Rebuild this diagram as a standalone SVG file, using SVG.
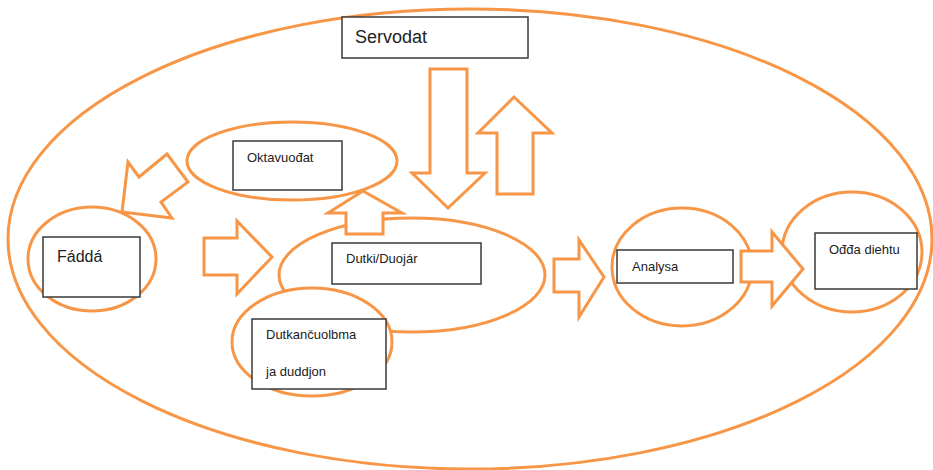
<svg xmlns="http://www.w3.org/2000/svg" width="933" height="470" viewBox="0 0 933 470">
<style>
.o{fill:#fff;stroke:#F79646;stroke-width:3}
.bo{fill:none;stroke:#F79646;stroke-width:3}
.b{fill:#fff;stroke:#3a3a3a;stroke-width:1.5}
.t{font-family:"Liberation Sans",Arial,sans-serif;font-size:13px;fill:#222}
</style>
<rect width="933" height="470" fill="#fff"/>
<ellipse id="outer" class="bo" cx="470" cy="239" rx="462" ry="230"/>
<g id="servodat">
<rect class="b" x="342" y="17" width="186" height="41"/>
<text class="t" x="355" y="43" style="font-size:18px">Servodat</text>
</g>
<g id="oktavuodat">
<ellipse class="o" cx="292" cy="161" rx="105" ry="39"/>
<rect class="b" x="233" y="141" width="109" height="49"/>
<text class="t" x="247" y="162">Oktavuođat</text>
</g>
<g id="faddha">
<ellipse class="o" cx="92" cy="259" rx="64" ry="52"/>
<rect class="b" x="43" y="237" width="97" height="60"/>
<text class="t" x="57" y="262" style="font-size:16px">Fáddá</text>
</g>
<g id="dutki">
<ellipse class="o" cx="412" cy="275" rx="133" ry="57"/>
<rect class="b" x="332" y="243" width="149" height="41"/>
<text class="t" x="346" y="263">Dutki/Duojár</text>
</g>
<g id="dutkancuolbma">
<ellipse class="o" cx="312" cy="342" rx="80" ry="54"/>
<rect class="b" x="252" y="319" width="134" height="70"/>
<text class="t" x="266" y="339">Dutkančuolbma</text>
<text class="t" x="266" y="376">ja duddjon</text>
</g>
<g id="analysa">
<ellipse class="o" cx="682" cy="267" rx="70" ry="59"/>
<rect class="b" x="617" y="250" width="116" height="33"/>
<text class="t" x="632" y="271">Analysa</text>
</g>
<g id="odda">
<ellipse class="o" cx="852" cy="252" rx="70" ry="60"/>
<rect class="b" x="815" y="233" width="102" height="56"/>
<text class="t" x="829" y="254">Ođđa diehtu</text>
</g>
<g id="connectors">
<polygon class="o" points="430,69 467,69 467,173 485,173 448,208 412,173 430,173"/>
<polygon class="o" points="514,97 552,133 533,133 533,194 497,194 497,133 478,133"/>
<polygon class="o" points="122,212 128,162 139,177 167,154 188,182 161,202 172,218"/>
<polygon class="o" points="204,238 237,238 237,221 272,257 237,294 237,275 204,275"/>
<polygon class="o" points="363,191 402,213 383,213 383,234 346,234 346,213 328,213"/>
<polygon class="o" points="554,259 579,259 579,240 604,277 579,317 579,292 554,292"/>
<polygon class="o" points="741,251 772,251 772,232 803,269 772,306 772,282 741,282"/>
</g>
</svg>
